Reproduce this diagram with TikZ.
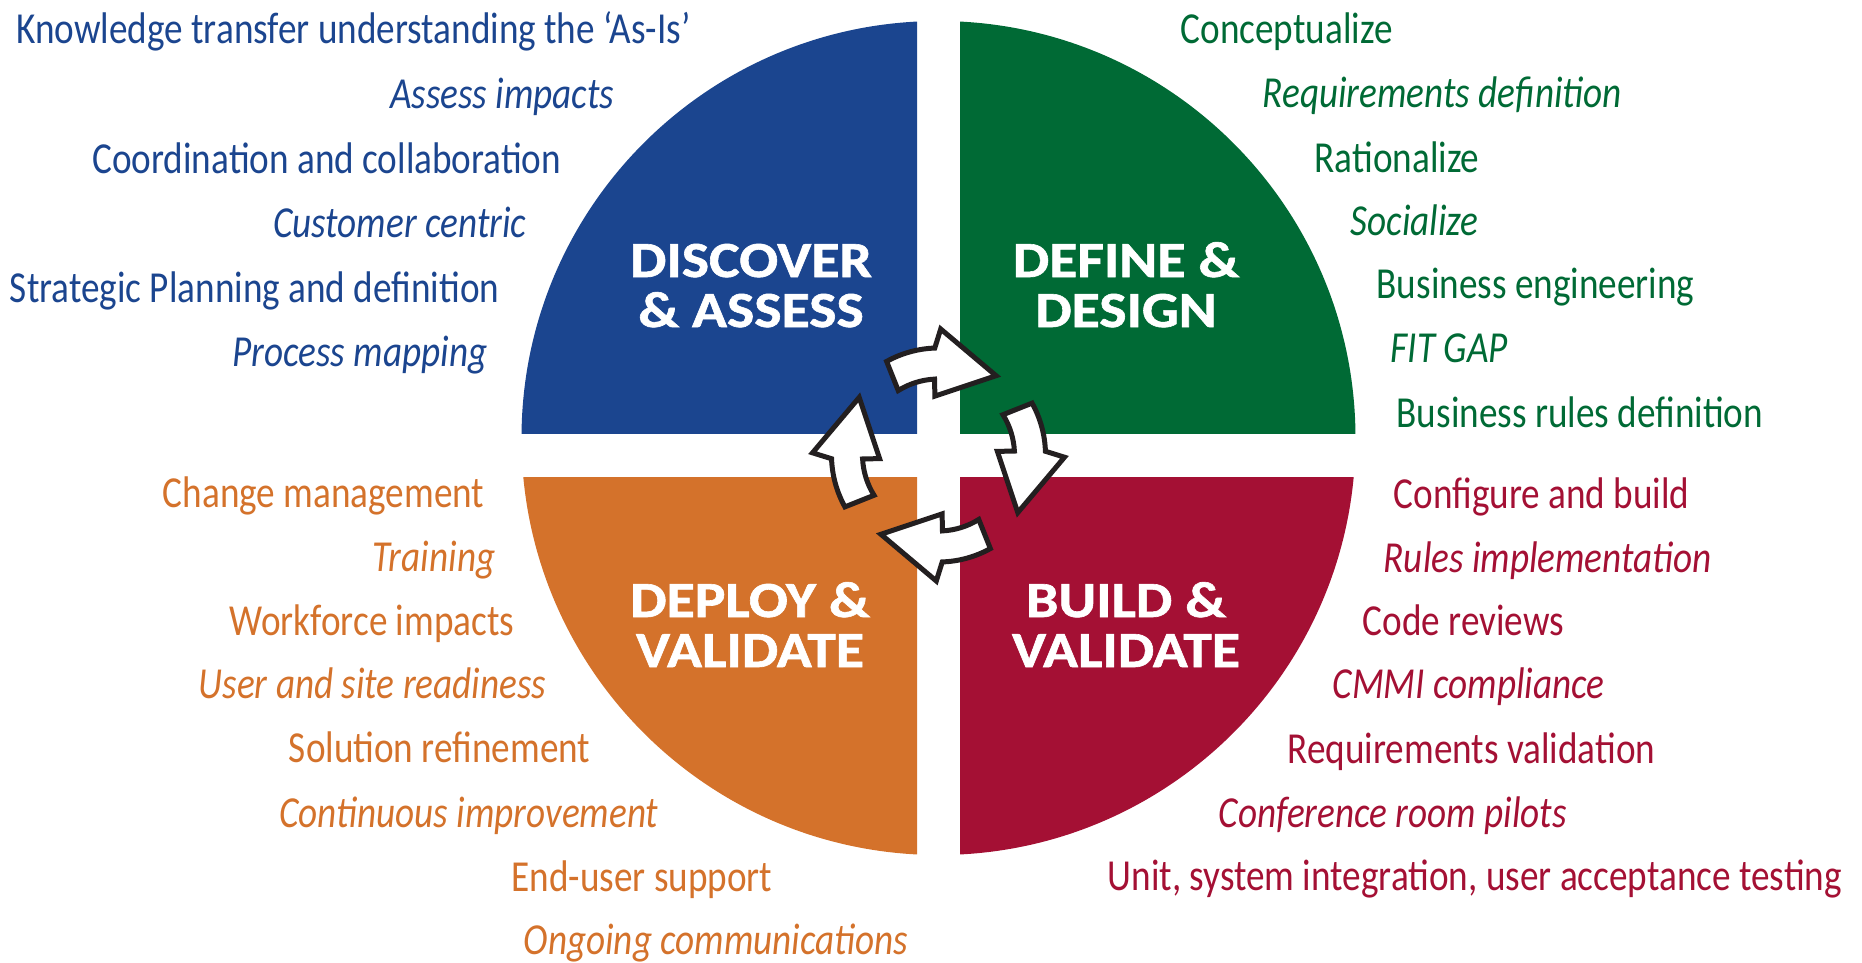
\documentclass[tikz,border=0pt]{standalone}
\usepackage{fontspec}
\setmainfont{Carlito}[FakeStretch=0.84]
\newfontfamily\headfont{Carlito}[FakeStretch=1.14, BoldFeatures={FakeBold=1.2}]
\usetikzlibrary{calc}
\definecolor{dblue}{RGB}{27,69,143}
\definecolor{dgreen}{RGB}{0,106,53}
\definecolor{dorange}{RGB}{212,114,43}
\definecolor{dred}{RGB}{164,16,52}
\definecolor{outline}{RGB}{35,31,32}
\begin{document}
\begin{tikzpicture}[x=0.1mm,y=-0.1mm,
  item/.style={inner sep=0pt, font=\fontsize{12.6}{14}\selectfont},
  lft/.style={item, anchor=base east},
  rgt/.style={item, anchor=base west},
  head/.style={inner sep=0pt, anchor=base, text=white, font=\headfont\bfseries\fontsize{14.4}{16}\selectfont},
  cyc/.style={fill=white, draw=outline, line width=0.5mm, line join=miter}]
\useasboundingbox (0,0) rectangle (1862,963);
\coordinate (O) at (938.5,438);
\coordinate (C) at (938.5,455);
% quadrants
\begin{scope}\clip (0,0) rectangle (917,433); \fill[dblue] (O) circle[radius=417]; \end{scope}
\begin{scope}\clip (960,0) rectangle (1862,433); \fill[dgreen] (O) circle[radius=417]; \end{scope}
\begin{scope}\clip (0,477) rectangle (917,963); \fill[dorange] (O) circle[radius=417]; \end{scope}
\begin{scope}\clip (960,477) rectangle (1862,963); \fill[dred] (O) circle[radius=417]; \end{scope}
% headings
\node[head] (h1a) at (751,277) {DISCOVER};
\node[head] (h1b) at (751,327) {\& ASSESS};
\node[head] (h2a) at (1126,277) {DEFINE \&};
\node[head] (h2b) at (1126,327) {DESIGN};
\node[head] (h3a) at (750,617) {DEPLOY \&};
\node[head] (h3b) at (750,667) {VALIDATE};
\node[head] (h4a) at (1126,617) {BUILD \&};
\node[head] (h4b) at (1126,667) {VALIDATE};
% cycle arrows
\begin{scope}[shift={(C)}]
\foreach \k in {0,1,2,3}{
  \pgfmathsetmacro\a{90*\k}
  \draw[cyc] (\a-122:76) -- (\a-119:107)
    arc[start angle=\a-119, end angle=\a-92, radius=107]
    -- (\a-89:126) -- (\a-54:98) -- (\a-93.5:59) -- (\a-93:76)
    arc[start angle=\a-93, end angle=\a-122, radius=76] -- cycle;
}
\end{scope}
% blue items
\begin{scope}[text=dblue]
\node[lft] (b1) at (691,43) {Knowledge transfer understanding the ‘As-Is’};
\node[lft] (b2) at (615,108) {\itshape Assess impacts};
\node[lft] (b3) at (562,173) {Coordination and collaboration};
\node[lft] (b4) at (527,237) {\itshape Customer centric};
\node[lft] (b5) at (500,302) {Strategic Planning and definition};
\node[lft] (b6) at (488,366) {\itshape Process mapping};
\end{scope}
% green items
\begin{scope}[text=dgreen]
\node[rgt] (g1) at (1180,43) {Conceptualize};
\node[rgt] (g2) at (1262,107) {\itshape Requirements definition};
\node[rgt] (g3) at (1314,172) {Rationalize};
\node[rgt] (g4) at (1350,235) {\itshape Socialize};
\node[rgt] (g5) at (1376,298) {Business engineering};
\node[rgt] (g6) at (1390,362) {\itshape FIT GAP};
\node[rgt] (g7) at (1396,427) {Business rules definition};
\end{scope}
% orange items
\begin{scope}[text=dorange]
\node[lft] (o1) at (485,507) {Change management};
\node[lft] (o2) at (496,571) {\itshape Training};
\node[lft] (o3) at (515,635) {Workforce impacts};
\node[lft] (o4) at (547,698) {\itshape User and site readiness};
\node[lft] (o5) at (591,762) {Solution refinement};
\node[lft] (o6) at (659,827) {\itshape Continuous improvement};
\node[lft] (o7) at (773,891) {End-user support};
\node[lft] (o8) at (909,954) {\itshape Ongoing communications};
\end{scope}
% red items
\begin{scope}[text=dred]
\node[rgt] (r1) at (1393,508) {Configure and build};
\node[rgt] (r2) at (1383,572) {\itshape Rules implementation};
\node[rgt] (r3) at (1362,635) {Code reviews};
\node[rgt] (r4) at (1332,698) {\itshape CMMI compliance};
\node[rgt] (r5) at (1287,763) {Requirements validation};
\node[rgt] (r6) at (1218,827) {\itshape Conference room pilots};
\node[rgt] (r7) at (1107,890) {Unit, system integration, user acceptance testing};
\end{scope}
\end{tikzpicture}
\end{document}
